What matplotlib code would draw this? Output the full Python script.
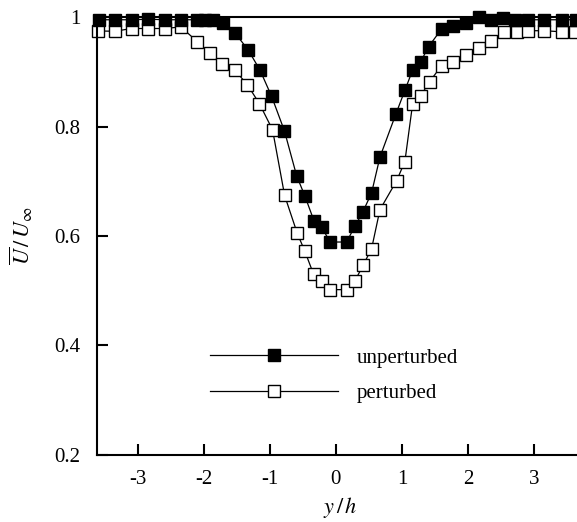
import matplotlib
matplotlib.use("Agg")
import matplotlib.pyplot as plt

plt.rcParams['font.family'] = ['Liberation Serif', 'DejaVu Serif']
plt.rcParams['mathtext.fontset'] = 'stix'

# unperturbed (filled squares)
x_unp = [-3.59, -3.35, -3.095, -2.84, -2.59, -2.35, -2.11, -1.98, -1.86, -1.71, -1.53,
         -1.33, -1.15, -0.974, -0.78, -0.595, -0.47, -0.333, -0.212, -0.091, 0.162,
         0.288, 0.405, 0.541, 0.667, 0.909, 1.045, 1.162, 1.283, 1.405, 1.60, 1.777,
         1.977, 2.17, 2.35, 2.53, 2.72, 2.91, 3.15, 3.42, 3.64]
u_unp = [0.995, 0.995, 0.995, 0.996, 0.995, 0.995, 0.995, 0.995, 0.995, 0.989, 0.971,
         0.940, 0.903, 0.855, 0.792, 0.710, 0.673, 0.628, 0.616, 0.589, 0.589,
         0.618, 0.643, 0.679, 0.744, 0.823, 0.866, 0.903, 0.918, 0.946, 0.978, 0.984,
         0.989, 1.000, 0.995, 0.999, 0.995, 0.995, 0.995, 0.995, 0.995]

# perturbed (open squares)
x_per = [-3.60, -3.35, -3.095, -2.84, -2.59, -2.35, -2.10, -1.91, -1.72, -1.53, -1.34,
         -1.16, -0.96, -0.777, -0.586, -0.47, -0.338, -0.217, -0.091, 0.162, 0.288,
         0.414, 0.541, 0.667, 0.92, 1.045, 1.162, 1.283, 1.42, 1.60, 1.777, 1.974,
         2.17, 2.35, 2.545, 2.74, 2.91, 3.15, 3.42, 3.62]
u_per = [0.9745, 0.974, 0.979, 0.979, 0.979, 0.982, 0.955, 0.934, 0.914, 0.903, 0.876,
         0.842, 0.794, 0.674, 0.605, 0.572, 0.530, 0.518, 0.502, 0.502, 0.518,
         0.547, 0.577, 0.648, 0.701, 0.736, 0.841, 0.856, 0.882, 0.911, 0.918, 0.931,
         0.943, 0.957, 0.973, 0.973, 0.975, 0.975, 0.973, 0.972]

xticks = [-3, -2, -1, 0, 1, 2, 3]
yticks = [0.2, 0.4, 0.6, 0.8, 1.0]
yticklabels = ['0.2', '0.4', '0.6', '0.8', '1']

fig = plt.figure(figsize=(5.77, 5.22), dpi=100)
ax = fig.add_axes([0.1681, 0.1284, 0.843, 0.839])

ax.plot(x_unp, u_unp, color='black', lw=0.9, marker='s', ms=8.5,
        mfc='black', mec='black', clip_on=False, label='unperturbed', zorder=3)
ax.plot(x_per, u_per, color='black', lw=0.9, marker='s', ms=8.5,
        mfc='white', mec='black', mew=1.0, clip_on=False, label='perturbed', zorder=2)

ax.set_xlim(-3.62, 3.75)
ax.set_ylim(0.2, 1.0)
ax.set_xticks(xticks)
ax.set_xticklabels([str(t) for t in xticks])
ax.set_yticks(yticks)
ax.set_yticklabels(yticklabels)

for s in ax.spines.values():
    s.set_linewidth(1.5)

ax.tick_params(direction='in', length=8, width=1.5, labelsize=15)
ax.tick_params(axis='y', pad=12)
ax.tick_params(axis='x', pad=11)

ax.set_xlabel(r'$y\,/\,h$', fontsize=16, labelpad=4)
ax.set_ylabel(r'$\overline{U}\,/\,U_\infty$', fontsize=16, labelpad=14)

leg = ax.legend(loc='center left', bbox_to_anchor=(210 / 577, 1 - 375.5 / 522),
                bbox_transform=fig.transFigure, frameon=False, fontsize=15,
                handlelength=6.15, handletextpad=0.9, labelspacing=0.75,
                borderpad=0, borderaxespad=0)

fig.savefig('out.png', dpi=100)
